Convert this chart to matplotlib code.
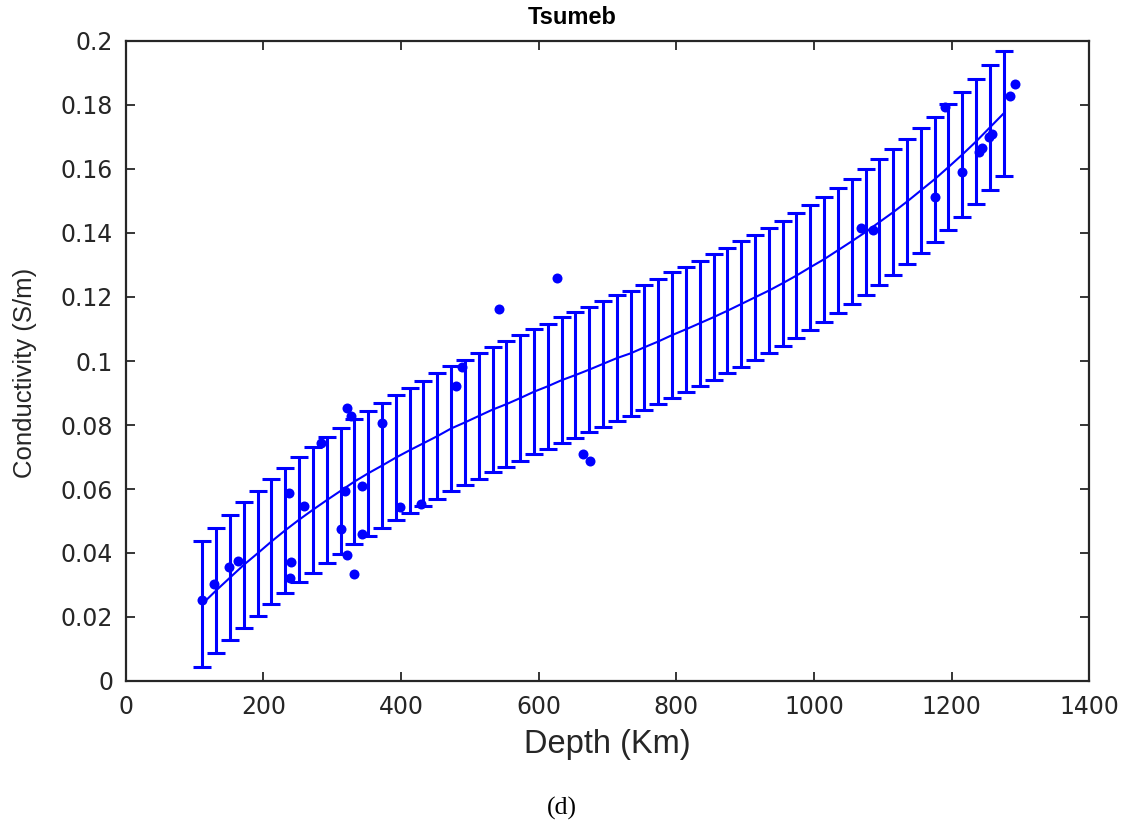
import numpy as np
import matplotlib
matplotlib.use("Agg")
import matplotlib.pyplot as plt
from matplotlib.ticker import FuncFormatter

# Measured conductivity at depth (Tsumeb station)
depth_obs = [111.5, 128.0, 149.8, 163.3, 237.9, 240.3, 239.3, 259.7, 284.3,
             318.3, 313.4, 322.1, 327.0, 322.1, 331.4, 343.5, 343.5, 372.1,
             398.2, 428.7, 480.0, 489.2, 542.5, 626.3, 665.0, 675.2,
             1068.0, 1086.3, 1176.0, 1191.0, 1215.2, 1240.3, 1244.2,
             1254.8, 1258.3, 1285.4, 1292.5]
cond_obs = [0.0252, 0.0302, 0.0355, 0.0376, 0.0588, 0.0373, 0.0321, 0.0547,
            0.0745, 0.0594, 0.0476, 0.0852, 0.0827, 0.0394, 0.0334, 0.0610,
            0.0460, 0.0807, 0.0545, 0.0554, 0.0922, 0.0982, 0.1163, 0.1260,
            0.0708, 0.0688, 0.1417, 0.1409, 0.1513, 0.1795, 0.1590, 0.1654,
            0.1665, 0.1701, 0.1708, 0.1828, 0.1867]

# Fitted profile evaluated on a regular depth grid
depth_fit = np.linspace(111.5, 1275.7, 59)
cond_fit = [0.0241, 0.0283, 0.0323, 0.0363, 0.0399, 0.0436, 0.0471, 0.0504,
            0.0535, 0.0565, 0.0594, 0.0623, 0.0649, 0.0673, 0.0698, 0.0721,
            0.0743, 0.0765, 0.0789, 0.0808, 0.0828, 0.0848, 0.0865, 0.0884,
            0.0904, 0.0921, 0.0940, 0.0956, 0.0973, 0.0991, 0.1009, 0.1024,
            0.1043, 0.1061, 0.1081, 0.1099, 0.1118, 0.1137, 0.1157, 0.1178,
            0.1199, 0.1220, 0.1243, 0.1267, 0.1293, 0.1318, 0.1346, 0.1374,
            0.1403, 0.1434, 0.1465, 0.1498, 0.1533, 0.1568, 0.1606, 0.1645,
            0.1686, 0.1730, 0.1774]
fit_err = 0.0196

x_ticks = [0, 200, 400, 600, 800, 1000, 1200, 1400]
y_ticks = [0, 0.02, 0.04, 0.06, 0.08, 0.1, 0.12, 0.14, 0.16, 0.18, 0.2]

BLUE = "#0000ff"
FRAME = "#262626"

W, H = 1130, 826
fig = plt.figure(figsize=(W / 100, H / 100), dpi=100)
ax = fig.add_axes([125.6 / W, 1 - 681 / H, 963.7 / W, 640 / H])

ax.errorbar(depth_fit, cond_fit, yerr=fit_err, fmt="-", color=BLUE,
            linewidth=1.5, elinewidth=2.2, capsize=6.4, capthick=2.2,
            zorder=2)
ax.plot(depth_obs, cond_obs, "o", color=BLUE, markersize=7.2,
        markeredgewidth=0, zorder=3)

ax.set_xlim(0, 1400)
ax.set_ylim(0, 0.2)
ax.set_xticks(x_ticks)
ax.set_yticks(y_ticks)
ax.xaxis.set_major_formatter(FuncFormatter(lambda v, p: f"{v:g}"))
ax.yaxis.set_major_formatter(FuncFormatter(lambda v, p: f"{v:g}"))

for side in ax.spines.values():
    side.set_color(FRAME)
    side.set_linewidth(1.6)
ax.tick_params(direction="in", length=6.5, width=1.3, color=FRAME,
               top=True, right=True, labelcolor=FRAME, labelsize=17)
ax.tick_params(axis="x", pad=10)
ax.tick_params(axis="y", pad=9)
for lbl in ax.get_xticklabels() + ax.get_yticklabels():
    lbl.set_family("DejaVu Sans")

fig.text(572 / W, 1 - 18 / H, "Tsumeb", ha="center", va="center",
         family="Liberation Sans", fontweight="bold", fontsize=17,
         color="#000000")
fig.text(607 / W, 1 - 745 / H, "Depth (Km)", ha="center", va="center",
         family="Liberation Sans", fontsize=23.5, color=FRAME)
fig.text(25 / W, 1 - 373 / H, "Conductivity (S/m)", ha="center",
         va="center", rotation=90, family="Liberation Sans", fontsize=18.5,
         color=FRAME)
fig.text(562 / W, 1 - 808 / H, "(d)", ha="center", va="center",
         family="Liberation Serif", fontsize=18.5, color="#000000")

fig.savefig("out.png", dpi=100, facecolor="white")
